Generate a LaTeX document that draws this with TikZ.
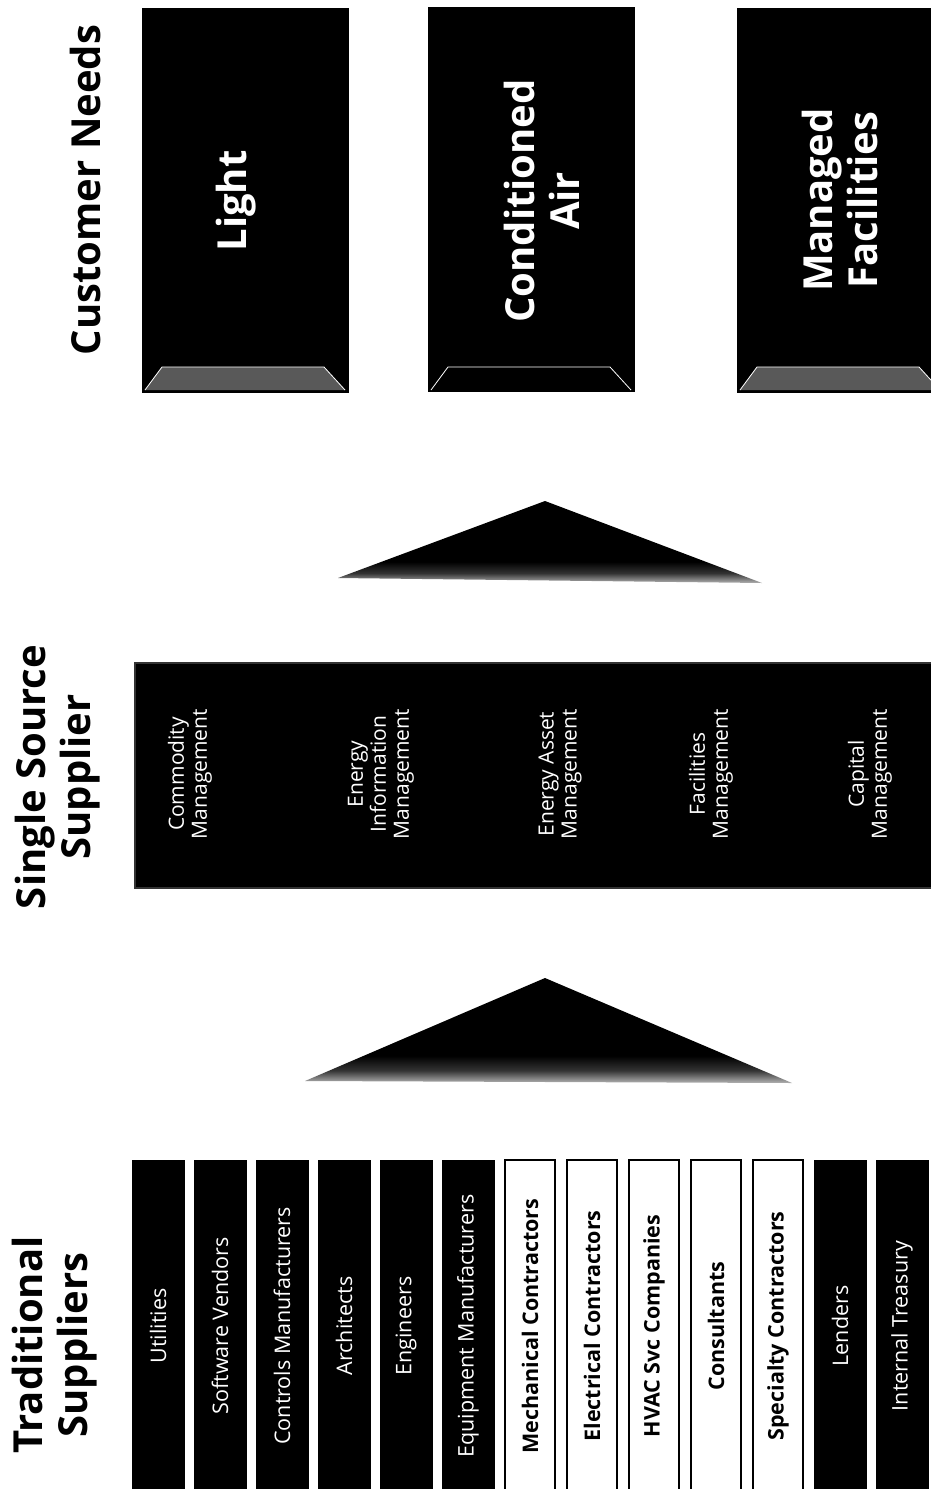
\documentclass[tikz,border=0pt]{standalone}
\usepackage{fontspec}
\setmainfont{Open Sans}
\pgfdeclareverticalshading{trishade}{100bp}{color(0bp)=(black!30); color(25bp)=(black!30); color(31bp)=(black!80); color(38bp)=(black); color(100bp)=(black)}
\begin{document}
\begin{tikzpicture}[x=1pt,y=-1pt,
  header/.style={rotate=90, align=center, font=\fontsize{40}{45}\selectfont\bfseries, inner sep=0pt},
  needbox/.style={fill=black, draw=black, minimum width=206pt, minimum height=384pt, inner sep=0pt},
  needtext/.style={rotate=90, align=center, text=white, font=\fontsize{40}{45}\selectfont\bfseries, inner sep=0pt},
  ssbox/.style={fill=black, draw=black!80, line width=1.5pt, inner sep=0pt},
  sstext/.style={rotate=90, align=center, text=white, font=\fontsize{21}{23}\selectfont, inner sep=0pt},
  darkbar/.style={rotate=90, fill=black, draw=black, text=white, minimum width=332pt, minimum height=52pt, inner sep=0pt, font=\fontsize{21.5}{24}\selectfont},
  lightbar/.style={rotate=90, fill=white, draw=black, line width=2pt, text=black, minimum width=332pt, minimum height=50pt, inner sep=0pt, font=\fontsize{21.5}{24}\selectfont\bfseries}
]
\useasboundingbox (0,0) rectangle (931,1489);
\fill[white] (0,0) rectangle (931,1489);

% headers
\node[header] (hcust) at (85,190) {Customer Needs};
\node[header] (hsingle) at (58,777) {Single Source\\Supplier};
\node[header] (htrad) at (55,1345) {Traditional\\Suppliers};

% customer needs boxes
\node[needbox] (light) at (245,200) {};
\node[needbox] (air) at (531,199) {};
\node[needbox] (managed) at (840,200) {};
\foreach \L/\R/\f in {142/348/black!65, 428/634/black, 737/943/black!65}{
  \draw[white, line width=0.8pt, fill=\f] (\L+3,390) -- (\L+20,367) -- (\R-24,367) -- (\R-3,390);
}
\node[needtext] (lighttxt) at (236,201) {Light};
\node[needtext] (airtxt) at (542,201) {Conditioned\\Air};
\node[needtext] (managedtxt) at (840,200) {Managed\\Facilities};

% upper triangle
\shade[shading=trishade] (545,501) -- (762,583) -- (338,578) -- cycle;

% single source supplier box
\node[ssbox, minimum width=805pt, minimum height=225pt] (single) at (537.5,775.5) {};
\node[sstext] (ss1) at (190,774) {Commodity\\Management};
\node[sstext] (ss2) at (381,774) {Energy\\Information\\Management};
\node[sstext] (ss3) at (560,774) {Energy Asset\\Management};
\node[sstext] (ss4) at (711,774) {Facilities\\Management};
\node[sstext] (ss5) at (870,774) {Capital\\Management};

% lower triangle
\shade[shading=trishade] (545,978) -- (792,1083) -- (305,1081) -- cycle;

% traditional suppliers bars
\node[darkbar] (b1) at (158,1326) {Utilities};
\node[darkbar] (b2) at (220,1326) {Software Vendors};
\node[darkbar] (b3) at (282,1326) {Controls Manufacturers};
\node[darkbar] (b4) at (344,1326) {Architects};
\node[darkbar] (b5) at (406,1326) {Engineers};
\node[darkbar] (b6) at (468,1326) {Equipment Manufacturers};
\node[lightbar] (b7) at (530,1326) {Mechanical Contractors};
\node[lightbar] (b8) at (592,1326) {Electrical Contractors};
\node[lightbar] (b9) at (654,1326) {HVAC Svc Companies};
\node[lightbar] (b10) at (716,1326) {Consultants};
\node[lightbar] (b11) at (778,1326) {Specialty Contractors};
\node[darkbar] (b12) at (840,1326) {Lenders};
\node[darkbar] (b13) at (902,1326) {Internal Treasury};
\end{tikzpicture}
\end{document}
